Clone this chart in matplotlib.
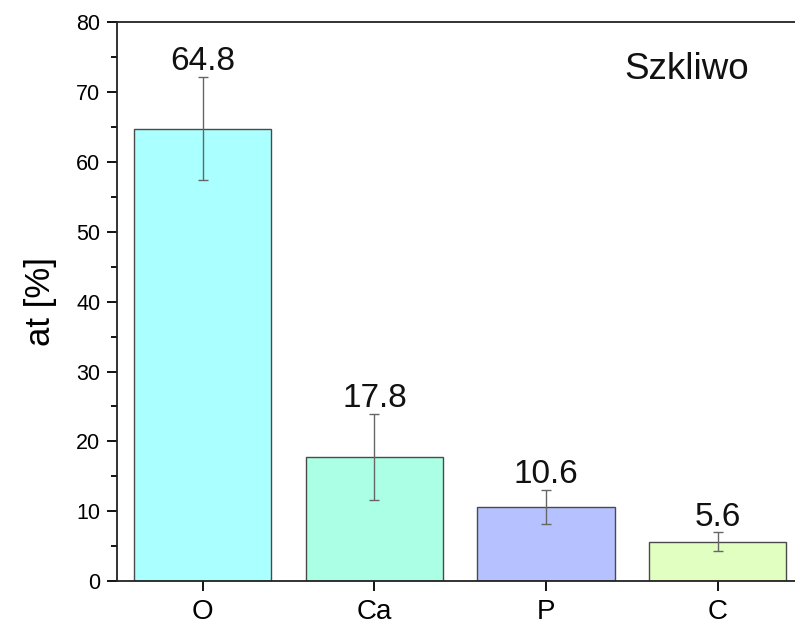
import matplotlib
matplotlib.use("Agg")
import matplotlib.pyplot as plt
from matplotlib.ticker import MultipleLocator

plt.rcParams['font.family'] = ['Liberation Sans', 'DejaVu Sans']

elements = ["O", "Ca", "P", "C"]
at_percent = [64.8, 17.8, 10.6, 5.6]
at_error = [7.35, 6.15, 2.4, 1.35]
bar_colors = ["#AAFFFF", "#AAFFE4", "#B6C2FF", "#E2FFC2"]

fig = plt.figure(figsize=(7.95, 6.26), dpi=100)
ax = fig.add_axes([0.1472, 0.0719, 0.8635, 0.8922])

x = list(range(len(elements)))
ax.bar(x, at_percent, width=0.8, color=bar_colors, edgecolor="#4a4a4a",
       linewidth=1.0, zorder=2)
ax.errorbar(x, at_percent, yerr=at_error, fmt="none", ecolor="#666666",
            elinewidth=1.0, capsize=3.6, capthick=1.0, zorder=3)

for xi, v, e in zip(x, at_percent, at_error):
    ax.annotate(f"{v:.1f}", xy=(xi, v + e), xytext=(0, 5),
                textcoords="offset points", ha="center", va="baseline",
                fontsize=24, color="#111111")

ax.set_xlim(-0.5, 3.5)
ax.set_ylim(0, 80)
ax.set_xticks(x)
ax.set_xticklabels(elements, fontsize=20)
ax.yaxis.set_major_locator(MultipleLocator(10))
ax.yaxis.set_minor_locator(MultipleLocator(5))
ax.tick_params(axis="y", which="major", direction="out", length=7,
               width=1.3, labelsize=15.5, pad=5)
ax.tick_params(axis="y", which="minor", direction="out", length=4, width=1.3)
ax.tick_params(axis="x", which="major", direction="out", length=7,
               width=1.3, pad=6)
ax.tick_params(axis="x", which="minor", bottom=False)

for side in ("left", "bottom", "top"):
    ax.spines[side].set_linewidth(1.3)
    ax.spines[side].set_color("#222222")
ax.spines["right"].set_visible(False)

ax.set_ylabel("at [%]", fontsize=25, labelpad=14)
ax.text(0.83, 0.915, "Szkliwo", transform=ax.transAxes, ha="center",
        va="center", fontsize=26.5, color="#111111")

fig.savefig("out.png", dpi=100)
